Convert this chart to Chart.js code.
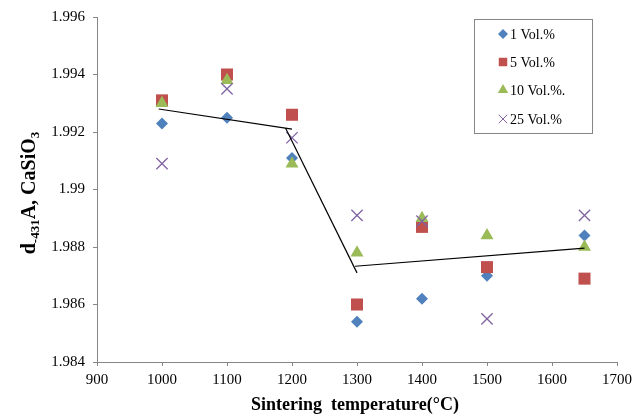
<!DOCTYPE html>
<html>
<head>
<meta charset="utf-8">
<script src="https://cdn.jsdelivr.net/npm/chart.js@4"></script>
<style>
  html, body { margin: 0; padding: 0; background: #fff; }
  #wrap { width: 637px; height: 418px; }
</style>
</head>
<body>
<div id="wrap"><canvas id="sinterChart" width="637" height="418"></canvas></div>
<script>
// temperatures (°C)
const temps = [1000, 1100, 1200, 1300, 1400, 1500, 1650];
// d-spacing (A) for each additive amount
const vol1 = [1.9923, 1.9925, 1.9911, 1.9854, 1.9862, 1.9870, 1.9884];
const vol5 = [1.9931, 1.9940, 1.9926, 1.9860, 1.9887, 1.9873, 1.9869];
const vol10 = [1.9930, 1.9938, 1.9909, 1.9878, 1.9890, 1.9884, 1.9880];
const vol25 = [1.9909, 1.9935, 1.9918, 1.9891, 1.9889, 1.9855, 1.9891];
const seriesNames = ['1 Vol.%', '5 Vol.%', '10 Vol.%.', '25 Vol.%'];

// trend line segments drawn over the points
const trendX = [[995, 1200], [1190, 1300], [1297, 1650]];
const trendY = [[1.9928, 1.9921], [1.99214, 1.9871], [1.98733, 1.98796]];

const yTicks = ['1.984', '1.986', '1.988', '1.99', '1.992', '1.994', '1.996'];
const xTicks = ['900', '1000', '1100', '1200', '1300', '1400', '1500', '1600', '1700'];

const serif = "'Liberation Serif', 'Times New Roman', serif";
const axisGrey = '#868686';

function toPoints(xs, ys) {
    return xs.map((x, i) => ({ x: x, y: ys[i] }));
}

var markerSets = [
    { data: vol1, pointStyle: 'rectRot', pointRadius: 6, color: '#4F81BD' },
    { data: vol5, pointStyle: 'rect', pointRadius: 8.5, color: '#C0504D' },
    { data: vol10, pointStyle: 'triangle', pointRadius: 7.5, color: '#9BBB59' },
    { data: vol25, pointStyle: 'crossRot', pointRadius: 8, color: '#8064A2' }
];

// later series sit on top, like in Excel
var datasets = markerSets.map((s, i) => ({
    label: seriesNames[i],
    data: toPoints(temps, s.data),
    order: 10 - i,
    pointStyle: s.pointStyle,
    pointRadius: s.pointRadius,
    pointHoverRadius: s.pointRadius,
    backgroundColor: s.color,
    borderColor: s.color,
    pointBorderWidth: s.pointStyle === 'crossRot' ? 1.3 : 0,
    showLine: false
}));

trendX.forEach((xs, i) => {
    datasets.push({
        label: 'trend' + i,
        data: toPoints(xs, trendY[i]),
        order: 0,
        showLine: true,
        pointRadius: 0,
        borderColor: '#000',
        borderWidth: 1.2,
        fill: false
    });
});

// legend box inside the plot, like the original
const boxLegend = {
    id: 'boxLegend',
    afterDraw(chart) {
        var ctx = chart.ctx;
        var rows = [34, 62, 90, 119];
        var sizes = [5, 6, 6, 6];
        ctx.save();
        ctx.fillStyle = '#fff';
        ctx.fillRect(474, 19, 118, 114);
        ctx.strokeStyle = axisGrey;
        ctx.lineWidth = 1;
        ctx.strokeRect(474.5, 19.5, 118, 114);
        ctx.font = '14px ' + serif;
        ctx.textBaseline = 'middle';
        ctx.textAlign = 'left';
        markerSets.forEach((s, i) => {
            ctx.fillStyle = s.color;
            ctx.strokeStyle = s.color;
            Chart.helpers.drawPoint(ctx, {
                pointStyle: s.pointStyle,
                radius: sizes[i],
                rotation: 0,
                borderWidth: s.pointStyle === 'crossRot' ? 1.2 : 0
            }, 503, rows[i]);
            ctx.fillStyle = '#000';
            ctx.fillText(seriesNames[i], 510, rows[i] + 1);
        });
        ctx.restore();
    }
};

// axis titles, with subscripts on the y title
const axisTitles = {
    id: 'axisTitles',
    afterDraw(chart) {
        var ctx = chart.ctx;
        ctx.save();
        ctx.fillStyle = '#000';
        ctx.font = 'bold 18px ' + serif;
        ctx.textAlign = 'center';
        ctx.textBaseline = 'alphabetic';
        ctx.fillText('Sintering  temperature(\u00b0C)', 355, 410);

        var parts = [['d', false], ['-431', true], ['A, CaSiO', false], ['3', true]];
        var big = 'bold 20px ' + serif;
        var small = 'bold 13px ' + serif;
        var total = 0;
        parts.forEach(p => {
            ctx.font = p[1] ? small : big;
            total += ctx.measureText(p[0]).width;
        });
        ctx.translate(35, 193);
        ctx.rotate(-Math.PI / 2);
        ctx.textAlign = 'left';
        var x = -total / 2;
        parts.forEach(p => {
            ctx.font = p[1] ? small : big;
            ctx.fillText(p[0], x, p[1] ? 4 : 0);
            x += ctx.measureText(p[0]).width;
        });
        ctx.restore();
    }
};

var ctx = document.getElementById('sinterChart').getContext('2d');
var sinterChart = new Chart(ctx, {
    type: 'scatter',
    data: { datasets: datasets },
    options: {
        responsive: false,
        animation: false,
        layout: { padding: { left: 0, top: 16, right: 16, bottom: 0 } },
        plugins: {
            legend: { display: false },
            tooltip: { enabled: false }
        },
        scales: {
            x: {
                type: 'linear',
                min: 900,
                max: 1700,
                afterFit: scale => { scale.height = 56; },
                afterBuildTicks: scale => {
                    scale.ticks = xTicks.map(t => ({ value: Number(t) }));
                },
                ticks: {
                    color: '#000',
                    font: { family: serif, size: 15 },
                    padding: 5,
                    maxRotation: 0,
                    callback: (v, i) => xTicks[i]
                },
                grid: { display: true, drawOnChartArea: false, drawTicks: true, tickLength: 4, color: axisGrey },
                border: { color: axisGrey }
            },
            y: {
                type: 'linear',
                min: 1.984,
                max: 1.996,
                afterFit: scale => { scale.width = 97; },
                afterBuildTicks: scale => {
                    scale.ticks = yTicks.map(t => ({ value: Number(t) }));
                },
                ticks: {
                    color: '#000',
                    font: { family: serif, size: 15 },
                    padding: 8,
                    callback: (v, i) => yTicks[i]
                },
                grid: { display: true, drawOnChartArea: false, drawTicks: true, tickLength: 4, color: axisGrey },
                border: { color: axisGrey }
            }
        }
    },
    plugins: [boxLegend, axisTitles]
});
</script>
</body>
</html>
